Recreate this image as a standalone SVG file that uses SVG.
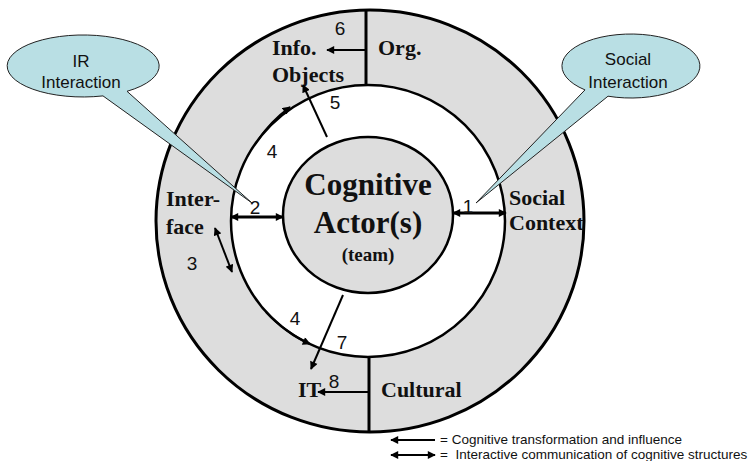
<svg xmlns="http://www.w3.org/2000/svg" width="748" height="461" viewBox="0 0 748 461">
  <defs>
    <marker id="head" viewBox="0 0 10 10" refX="9" refY="5" markerWidth="9" markerHeight="8" markerUnits="userSpaceOnUse" orient="auto-start-reverse">
      <path d="M0,0 L10,5 L0,10 Z" fill="#000"/>
    </marker>
  </defs>
  <style>
    .ring { fill: #dddddd; stroke: #000; stroke-width: 3; }
    .hole { fill: #ffffff; stroke: #000; stroke-width: 2.5; }
    .actor { fill: #dddddd; stroke: #000; stroke-width: 2.5; }
    .div { stroke: #000; stroke-width: 3; fill: none; }
    .one { stroke: #000; stroke-width: 2; fill: none; marker-end: url(#head); }
    .two { stroke: #000; stroke-width: 3; fill: none; marker-start: url(#head); marker-end: url(#head); }
    .two-thin { stroke: #000; stroke-width: 2; fill: none; marker-start: url(#head); marker-end: url(#head); }
    .lbl { font-family: "Liberation Serif", "Times New Roman", serif; font-weight: bold; font-size: 22px; fill: #111; }
    .big { font-size: 31px; text-anchor: middle; }
    .team { font-size: 19px; text-anchor: middle; }
    .num { font-family: "Liberation Sans", Arial, sans-serif; font-size: 19px; fill: #111; text-anchor: middle; }
    .callout { fill: #b9dfe4; stroke: #222; stroke-width: 1; }
    .ctext { font-family: "Liberation Sans", Arial, sans-serif; font-size: 17px; fill: #111; text-anchor: middle; }
    .legend { font-family: "Liberation Sans", Arial, sans-serif; font-size: 13.5px; fill: #111; }
  </style>

  <!-- outer ring of contexts -->
  <g id="contexts">
    <ellipse class="ring" cx="370" cy="221" rx="214" ry="211"/>
    <ellipse class="hole" cx="368" cy="221" rx="137" ry="136"/>
    <line class="div" x1="366" y1="10" x2="366" y2="85"/>
    <line class="div" x1="369" y1="357" x2="369" y2="432"/>
  </g>

  <g id="info-objects">
    <text class="lbl" x="272" y="55">Info.</text>
    <text class="lbl" x="272" y="82">Objects</text>
  </g>
  <g id="org">
    <text class="lbl" x="378" y="55">Org.</text>
  </g>
  <g id="interface">
    <text class="lbl" x="166" y="206">Inter-</text>
    <text class="lbl" x="166" y="234">face</text>
  </g>
  <g id="social-context">
    <text class="lbl" x="509" y="205">Social</text>
    <text class="lbl" x="509" y="230">Context</text>
  </g>
  <g id="it">
    <text class="lbl" x="298" y="397">IT</text>
  </g>
  <g id="cultural">
    <text class="lbl" x="381" y="397">Cultural</text>
  </g>

  <!-- central actor -->
  <g id="actor">
    <ellipse class="actor" cx="368" cy="215" rx="85" ry="78"/>
    <text class="lbl big" x="368" y="195">Cognitive</text>
    <text class="lbl big" x="368" y="233">Actor(s)</text>
    <text class="lbl team" x="368" y="261">(team)</text>
  </g>

  <!-- connectors -->
  <g id="connectors">
    <line class="two" x1="453" y1="213" x2="506" y2="213"/>
    <line class="two" x1="231" y1="217" x2="283" y2="217"/>
    <line class="two-thin" x1="215" y1="228" x2="232" y2="272"/>
    <path class="one" d="M258,140 A137,136 0 0 1 290,107"/>
    <path class="one" d="M266,312 A137,136 0 0 0 310,344"/>
    <line class="one" x1="327" y1="137" x2="303" y2="85"/>
    <line class="one" x1="366" y1="50" x2="327" y2="50"/>
    <line class="one" x1="343" y1="295" x2="311" y2="369"/>
    <line class="one" x1="369" y1="392" x2="318" y2="392"/>
  </g>

  <g id="numbers">
    <text class="num" x="468" y="213">1</text>
    <text class="num" x="255" y="214">2</text>
    <text class="num" x="192" y="270">3</text>
    <text class="num" x="272" y="158">4</text>
    <text class="num" x="295" y="325">4</text>
    <text class="num" x="335" y="109">5</text>
    <text class="num" x="340" y="35">6</text>
    <text class="num" x="342" y="349">7</text>
    <text class="num" x="334" y="388">8</text>
  </g>

  <!-- speech callouts -->
  <g id="ir-interaction">
    <path class="callout" d="M127,91.3 L252,203 L103,95.9 A76,31 0 1 1 127,91.3 Z"/>
    <text class="ctext" x="81" y="67">IR</text>
    <text class="ctext" x="81" y="88">Interaction</text>
  </g>
  <g id="social-interaction">
    <path class="callout" d="M585,89.9 L476,203 L608,96.2 A69,32 0 1 0 585,89.9 Z"/>
    <text class="ctext" x="628" y="65">Social</text>
    <text class="ctext" x="628" y="88">Interaction</text>
  </g>

  <!-- legend -->
  <g id="legend">
    <line class="one" x1="435" y1="440" x2="391" y2="440"/>
    <line class="two-thin" x1="391" y1="455" x2="435" y2="455"/>
    <text class="legend" x="440" y="444">= Cognitive transformation and influence</text>
    <text class="legend" x="440" y="459" xml:space="preserve">=  Interactive communication of cognitive structures</text>
  </g>
</svg>
